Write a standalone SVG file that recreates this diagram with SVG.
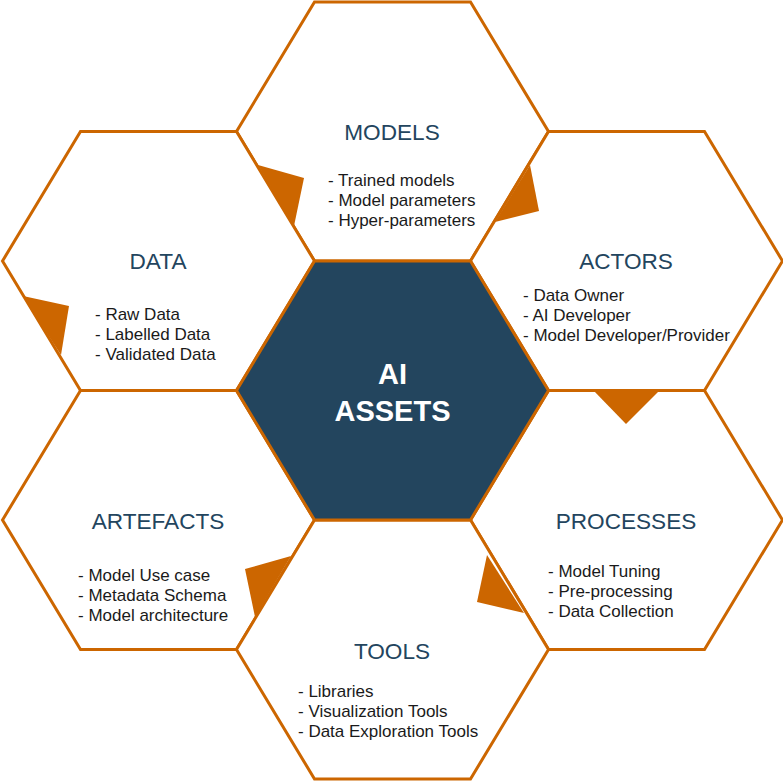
<svg xmlns="http://www.w3.org/2000/svg" width="783" height="783" viewBox="0 0 783 783">
  <style>
    .hex { fill: #ffffff; stroke: #CC6600; stroke-width: 3; stroke-linejoin: miter; }
    .core { fill: #23455E; stroke: #CC6600; stroke-width: 3; }
    .title { font-family: "Liberation Sans", Arial, sans-serif; font-size: 22.6px; fill: #23455E; text-anchor: middle; }
    .item { font-family: "Liberation Sans", Arial, sans-serif; font-size: 17px; fill: #1a1a1a; }
    .core-text { font-family: "Liberation Sans", Arial, sans-serif; font-size: 29px; font-weight: bold; fill: #ffffff; text-anchor: middle; }
    .arrow { fill: #CC6600; stroke: none; }
  </style>
  <defs>
    <polygon id="hexshape" points="-156,0 -78,-129.5 78,-129.5 156,0 78,129.5 -78,129.5"/>
  </defs>
  <rect width="783" height="783" fill="#ffffff"/>

  <g id="models">
    <use href="#hexshape" class="hex" x="392.5" y="131.5"/>
    <text class="title" x="392" y="140">MODELS</text>
    <text class="item" x="328" y="186">- Trained models</text>
    <text class="item" x="328" y="206">- Model parameters</text>
    <text class="item" x="328" y="226">- Hyper-parameters</text>
  </g>

  <g id="data">
    <use href="#hexshape" class="hex" x="158.5" y="261"/>
    <text class="title" x="158" y="269">DATA</text>
    <text class="item" x="95" y="320">- Raw Data</text>
    <text class="item" x="95" y="340">- Labelled Data</text>
    <text class="item" x="95" y="360">- Validated Data</text>
  </g>

  <g id="actors">
    <use href="#hexshape" class="hex" x="626.5" y="261"/>
    <text class="title" x="626" y="269">ACTORS</text>
    <text class="item" x="523" y="301">- Data Owner</text>
    <text class="item" x="523" y="321">- AI Developer</text>
    <text class="item" x="523" y="341">- Model Developer/Provider</text>
  </g>

  <g id="artefacts">
    <use href="#hexshape" class="hex" x="158.5" y="520"/>
    <text class="title" x="158" y="529">ARTEFACTS</text>
    <text class="item" x="78" y="581">- Model Use case</text>
    <text class="item" x="78" y="601">- Metadata Schema</text>
    <text class="item" x="78" y="621">- Model architecture</text>
  </g>

  <g id="processes">
    <use href="#hexshape" class="hex" x="626.5" y="520"/>
    <text class="title" x="626" y="529">PROCESSES</text>
    <text class="item" x="548" y="577">- Model Tuning</text>
    <text class="item" x="548" y="597">- Pre-processing</text>
    <text class="item" x="548" y="617">- Data Collection</text>
  </g>

  <g id="tools">
    <use href="#hexshape" class="hex" x="392.5" y="649.5"/>
    <text class="title" x="392" y="659">TOOLS</text>
    <text class="item" x="298" y="697">- Libraries</text>
    <text class="item" x="298" y="717">- Visualization Tools</text>
    <text class="item" x="298" y="737">- Data Exploration Tools</text>
  </g>

  <g id="ai-assets">
    <use href="#hexshape" class="core" x="392.5" y="390.5"/>
    <text class="core-text" x="392.5" y="384">AI</text>
    <text class="core-text" x="392.5" y="421">ASSETS</text>
  </g>

  <g id="connectors">
    <polygon class="arrow" points="258,165 304,178 294,226"/>
    <polygon class="arrow" points="530,165 539,211 495,222"/>
    <polygon class="arrow" points="23,296 69,306 61,355"/>
    <polygon class="arrow" points="593,390 660,390 626,424"/>
    <polygon class="arrow" points="487,555 477,602 524,613"/>
    <polygon class="arrow" points="291,556 245,569 255,617"/>
  </g>
</svg>
